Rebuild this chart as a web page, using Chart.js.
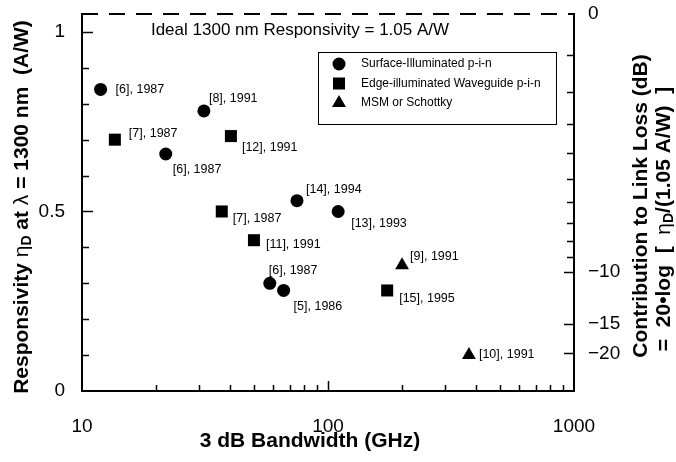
<!DOCTYPE html>
<html>
<head>
<meta charset="utf-8">
<script src="https://cdn.jsdelivr.net/npm/chart.js@4.4.1/dist/chart.umd.min.js"></script>
<style>
  html, body { margin: 0; padding: 0; background: #fff; }
  #wrap { width: 676px; height: 462px; }
</style>
</head>
<body>
<div id="wrap"><canvas id="respChart" width="676" height="462"></canvas></div>
<script>
// Photodetector responsivity vs bandwidth

const seriesNames = ['Surface-Illuminated p-i-n', 'Edge-illuminated Waveguide p-i-n', 'MSM or Schottky'];

const surfaceBW = [11.9, 31.3, 21.9, 74.8, 110, 58, 66];
const surfaceResp = [0.84, 0.78, 0.66, 0.53, 0.50, 0.30, 0.28];
const surfaceRefs = ['[6], 1987', '[8], 1991', '[6], 1987', '[14], 1994', '[13], 1993', '[6], 1987', '[5], 1986'];

const edgeBW = [13.6, 40.3, 37, 50, 174];
const edgeResp = [0.70, 0.71, 0.50, 0.42, 0.28];
const edgeRefs = ['[7], 1987', '[12], 1991', '[7], 1987', '[11], 1991', '[15], 1995'];

const msmBW = [200, 374];
const msmResp = [0.35, 0.10];
const msmRefs = ['[9], 1991', '[10], 1991'];

const bandwidthTicks = [10, 20, 30, 40, 50, 60, 70, 80, 90, 100, 200, 300, 400, 500, 600, 700, 800, 900, 1000];
const bandwidthLabeled = [10, 100, 1000];
const respTicks = [0, 0.1, 0.2, 0.3, 0.4, 0.5, 0.6, 0.7, 0.8, 0.9, 1];
const respLabeled = [0, 0.5, 1];
const lossDbTicks = [0, -1, -2, -3, -4, -5, -6, -7, -8, -9, -10, -15, -20];
const lossDbLabeled = [0, -10, -15, -20];
const idealResp = 1.05;

// label offsets from each marker centre (dx, dy), same order as the refs
const surfaceLabelPos = [[15, 0], [5, -12], [7, 16], [9, -11], [13, 12], [-1, -13], [10, 16]];
const edgeLabelPos = [[14, -6], [11, 11], [11, 7], [12, 4], [12, 8]];
const msmLabelPos = [[8, -9], [10, -1]];

const FONT = "'Liberation Sans', Arial, Helvetica, sans-serif";

function toPoints(xs, ys) {
    return xs.map((x, i) => ({ x: x, y: ys[i] }));
}

function dbLabel(db) {
    return db === 0 ? '0' : '\u2212' + Math.abs(db);
}

// text made of pieces, some of them subscript
function drawRich(ctx, parts, cx, cy, rot) {
    ctx.save();
    ctx.translate(cx, cy);
    ctx.rotate(rot);
    let total = 0;
    parts.forEach(p => { ctx.font = p.font; total += ctx.measureText(p.text).width; });
    let x = -total / 2;
    ctx.textBaseline = 'middle';
    ctx.textAlign = 'left';
    ctx.fillStyle = '#000';
    parts.forEach(p => {
        ctx.font = p.font;
        ctx.fillText(p.text, x, p.dy || 0);
        x += ctx.measureText(p.text).width;
    });
    ctx.restore();
}

function drawMarker(ctx, style, x, y) {
    ctx.beginPath();
    if (style === 'circle') {
        ctx.arc(x, y, 6.5, 0, Math.PI * 2);
    } else if (style === 'rect') {
        ctx.rect(x - 6, y - 6, 12, 12);
    } else {
        ctx.moveTo(x, y - 8);
        ctx.lineTo(x + 7, y + 4);
        ctx.lineTo(x - 7, y + 4);
        ctx.closePath();
    }
    ctx.fill();
}

function noEdgePadding(s) {
    s.paddingTop = 0;
    s.paddingBottom = 0;
}

const decorations = {
    id: 'decorations',
    afterDraw(chart) {
        const ctx = chart.ctx;
        const a = chart.chartArea;
        const sx = chart.scales.x, sy = chart.scales.y, sy2 = chart.scales.y2;
        ctx.save();
        ctx.strokeStyle = '#000';
        ctx.fillStyle = '#000';

        // inward tick marks
        ctx.lineWidth = 1.5;
        ctx.beginPath();
        sx.ticks.forEach(t => {
            if (t.value === 10 || t.value === 1000) return;
            const px = Math.round(sx.getPixelForValue(t.value)) + 0.5;
            const len = bandwidthLabeled.includes(t.value) ? 10 : 6;
            ctx.moveTo(px, a.bottom);
            ctx.lineTo(px, a.bottom - len);
        });
        sy.ticks.forEach(t => {
            if (t.value === 0) return;
            const py = Math.round(sy.getPixelForValue(t.value)) + 0.5;
            const len = respLabeled.includes(t.value) ? 11 : 7;
            ctx.moveTo(a.left, py);
            ctx.lineTo(a.left + len, py);
        });
        sy2.ticks.forEach((t, i) => {
            if (i === 0) return;
            const py = Math.round(sy2.getPixelForValue(t.value)) + 0.5;
            const len = lossDbLabeled.includes(lossDbTicks[i]) ? 10 : 7;
            ctx.moveTo(a.right, py);
            ctx.lineTo(a.right - len, py);
        });
        ctx.stroke();

        // dashed ideal responsivity line along the top
        const yIdeal = sy.getPixelForValue(idealResp);
        ctx.lineWidth = 2;
        ctx.setLineDash([16, 11]);
        ctx.beginPath();
        ctx.moveTo(a.left, yIdeal);
        ctx.lineTo(a.right, yIdeal);
        ctx.stroke();
        ctx.setLineDash([]);

        ctx.font = '17px ' + FONT;
        ctx.textAlign = 'center';
        ctx.textBaseline = 'middle';
        ctx.fillText('Ideal 1300 nm Responsivity = 1.05 A/W', 300, 30);

        // legend box
        ctx.lineWidth = 1;
        ctx.strokeRect(318.5, 52.5, 238, 72);
        const styles = ['circle', 'rect', 'triangle'];
        ctx.font = '12px ' + FONT;
        ctx.textAlign = 'left';
        seriesNames.forEach((name, i) => {
            const ly = 64 + i * 19.5;
            drawMarker(ctx, styles[i], 339, ly);
            ctx.fillText(name, 361, ly);
        });

        // axis titles
        const bold = 'bold 21px ' + FONT;
        const sub = 'bold 14px ' + FONT;
        const sym = '21px ' + FONT;
        drawRich(ctx, [
            { text: 'Responsivity ', font: bold },
            { text: '\u03b7', font: sym },
            { text: 'D', font: sub, dy: 5 },
            { text: ' at ', font: bold },
            { text: '\u03bb', font: sym },
            { text: ' = 1300 nm  (A/W)', font: bold }
        ], 22, 207, -Math.PI / 2);
        drawRich(ctx, [{ text: 'Contribution to Link Loss (dB)', font: bold }], 641, 206, -Math.PI / 2);
        drawRich(ctx, [
            { text: '=  20\u2022log  [  ', font: bold },
            { text: '\u03b7', font: sym },
            { text: 'D', font: sub, dy: 5 },
            { text: '/(1.05 A/W)  ]', font: bold }
        ], 664, 219, -Math.PI / 2);
        drawRich(ctx, [{ text: '3 dB Bandwidth (GHz)', font: bold }], 310, 441, 0);

        ctx.restore();
    }
};

const pointLabels = {
    id: 'pointLabels',
    afterDatasetsDraw(chart) {
        const ctx = chart.ctx;
        const refs = [surfaceRefs, edgeRefs, msmRefs];
        const offs = [surfaceLabelPos, edgeLabelPos, msmLabelPos];
        ctx.save();
        ctx.fillStyle = '#000';
        ctx.font = '12.5px ' + FONT;
        ctx.textAlign = 'left';
        ctx.textBaseline = 'middle';
        chart.data.datasets.forEach((ds, d) => {
            chart.getDatasetMeta(d).data.forEach((pt, i) => {
                ctx.fillText(refs[d][i], pt.x + offs[d][i][0], pt.y + offs[d][i][1]);
            });
        });
        ctx.restore();
    }
};

const ctx = document.getElementById('respChart').getContext('2d');
const respChart = new Chart(ctx, {
    type: 'scatter',
    data: {
        datasets: [
            {
                label: seriesNames[0],
                data: toPoints(surfaceBW, surfaceResp),
                pointStyle: 'circle',
                pointRadius: 6.5,
                pointHoverRadius: 6.5,
                backgroundColor: '#000',
                borderColor: '#000',
                borderWidth: 0
            },
            {
                label: seriesNames[1],
                data: toPoints(edgeBW, edgeResp),
                pointStyle: 'rect',
                pointRadius: 8.5,
                pointHoverRadius: 8.5,
                backgroundColor: '#000',
                borderColor: '#000',
                borderWidth: 0
            },
            {
                label: seriesNames[2],
                data: toPoints(msmBW, msmResp),
                pointStyle: 'triangle',
                pointRadius: 8,
                pointHoverRadius: 8,
                backgroundColor: '#000',
                borderColor: '#000',
                borderWidth: 0
            }
        ]
    },
    options: {
        responsive: false,
        animation: false,
        devicePixelRatio: 1,
        layout: { padding: { top: 14, left: 0, right: 0, bottom: 0 } },
        plugins: {
            legend: { display: false },
            tooltip: { enabled: false }
        },
        scales: {
            x: {
                type: 'logarithmic',
                min: 10,
                max: 1000,
                afterBuildTicks: s => { s.ticks = bandwidthTicks.map(v => ({ value: v })); },
                afterFit: s => { s.height = 71; s.paddingLeft = 0; s.paddingRight = 0; },
                grid: { display: false, drawTicks: false },
                border: { display: true, color: '#000', width: 2 },
                ticks: {
                    autoSkip: false,
                    maxRotation: 0,
                    padding: 24,
                    color: '#000',
                    font: { family: FONT, size: 19 },
                    callback: v => bandwidthLabeled.includes(v) ? String(v) : ''
                }
            },
            y: {
                position: 'left',
                min: 0,
                max: idealResp,
                afterBuildTicks: s => { s.ticks = respTicks.map(v => ({ value: v })); },
                afterFit: s => { s.width = 82; noEdgePadding(s); },
                grid: { display: false, drawTicks: false },
                border: { display: true, color: '#000', width: 2 },
                ticks: {
                    autoSkip: false,
                    padding: 17,
                    color: '#000',
                    font: { family: FONT, size: 19 },
                    callback: v => respLabeled.includes(v) ? String(v) : ''
                }
            },
            y2: {
                position: 'right',
                min: 0,
                max: idealResp,
                afterBuildTicks: s => { s.ticks = lossDbTicks.map(db => ({ value: idealResp * Math.pow(10, db / 20) })); },
                afterFit: s => { s.width = 102; noEdgePadding(s); },
                grid: { display: false, drawTicks: false },
                border: { display: true, color: '#000', width: 2 },
                ticks: {
                    autoSkip: false,
                    padding: 14,
                    color: '#000',
                    font: { family: FONT, size: 19 },
                    callback: (v, i) => lossDbLabeled.includes(lossDbTicks[i]) ? dbLabel(lossDbTicks[i]) : ''
                }
            }
        }
    },
    plugins: [pointLabels, decorations]
});
</script>
</body>
</html>
